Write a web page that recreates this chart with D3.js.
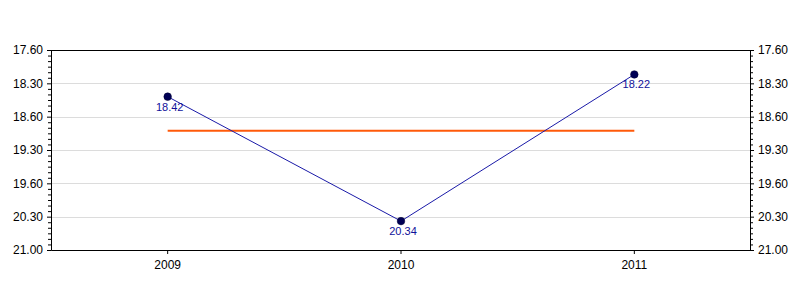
<!DOCTYPE html>
<html>
<head>
<meta charset="utf-8">
<script src="https://cdn.jsdelivr.net/npm/d3@7"></script>
<style>
  body { margin: 0; background: #fff; }
  svg { display: block; font-family: "Liberation Sans", Arial, sans-serif; }
</style>
</head>
<body>
<svg id="chart" width="800" height="300"></svg>
<script>
// Data (values are times written as minutes.seconds)
const categories = ["2009", "2010", "2011"];
const values = [18.42, 20.34, 18.22];
const valueLabels = ["18.42", "20.34", "18.22"];
// Axis ticks (seconds) and their labels as printed on the chart
const tickSeconds = [1080, 1110, 1140, 1170, 1200, 1230, 1260];
const tickLabels = ["17.60", "18.30", "18.60", "19.30", "19.60", "20.30", "21.00"];

const toSec = v => { const m = Math.floor(v); return m * 60 + Math.round((v - m) * 100); };
const secs = values.map(toSec);
const avg = d3.mean(secs);

const svg = d3.select("#chart");
const pLeft = 51, pRight = 751, pTop = 50, pBottom = 250;

const x = d3.scaleBand().domain(categories).range([pLeft, pRight]).padding(0);
const y = d3.scaleLinear().domain([1080, 1260]).range([pTop, pBottom]);

// grid lines
svg.append("g").selectAll("line").data(tickSeconds.slice(1, -1)).join("line")
  .attr("x1", pLeft).attr("x2", pRight)
  .attr("y1", d => Math.round(y(d)) + 0.5).attr("y2", d => Math.round(y(d)) + 0.5)
  .attr("stroke", "#dcdcdc").attr("stroke-width", 1);

// minor ticks
const minor = d3.range(1080, 1261, 5).filter(d => !tickSeconds.includes(d));

const styleAxis = (g) => {
  g.select(".domain").attr("stroke", "#000");
  g.selectAll(".tick line").attr("stroke", "#000");
  g.selectAll(".tick text").attr("fill", "#000").style("font-size", "12px");
};

const fmt = (d) => tickLabels[tickSeconds.indexOf(d)];

const gl = svg.append("g").attr("transform", `translate(${pLeft},0)`)
  .call(d3.axisLeft(y).tickValues(tickSeconds).tickFormat(fmt).tickSize(4).tickSizeOuter(0).tickPadding(4));
styleAxis(gl);
const glm = svg.append("g").attr("transform", `translate(${pLeft},0)`)
  .call(d3.axisLeft(y).tickValues(minor).tickFormat("").tickSize(3).tickSizeOuter(0));
styleAxis(glm);

const gr = svg.append("g").attr("transform", `translate(${pRight - 1},0)`)
  .call(d3.axisRight(y).tickValues(tickSeconds).tickFormat(fmt).tickSize(4).tickSizeOuter(0).tickPadding(4));
styleAxis(gr);
const grm = svg.append("g").attr("transform", `translate(${pRight - 1},0)`)
  .call(d3.axisRight(y).tickValues(minor).tickFormat("").tickSize(3).tickSizeOuter(0));
styleAxis(grm);

// top frame line
svg.append("line").attr("x1", pLeft).attr("x2", pRight - 1)
  .attr("y1", pTop + 0.5).attr("y2", pTop + 0.5).attr("stroke", "#000");

// bottom axis
const gb = svg.append("g").attr("transform", `translate(0,${pBottom})`)
  .call(d3.axisBottom(x).tickSize(4).tickSizeOuter(0).tickPadding(6));
styleAxis(gb);

const cx = d => x(d) + x.bandwidth() / 2;

// average line
svg.append("line")
  .attr("x1", cx(categories[0])).attr("x2", cx(categories[categories.length - 1]))
  .attr("y1", y(avg)).attr("y2", y(avg))
  .attr("stroke", "#ff5a0a").attr("stroke-width", 2);

// series line
const pts = categories.map((c, i) => ({ c, s: secs[i], l: valueLabels[i] }));
svg.append("path").datum(pts)
  .attr("fill", "none").attr("stroke", "#1a1aa8").attr("stroke-width", 1)
  .attr("d", d3.line().x(d => cx(d.c)).y(d => y(d.s)));

svg.append("g").selectAll("circle").data(pts).join("circle")
  .attr("cx", d => cx(d.c)).attr("cy", d => y(d.s)).attr("r", 3.8)
  .attr("fill", "#000055").attr("stroke", "#000033").attr("stroke-width", 0.5);

svg.append("g").selectAll("text").data(pts).join("text")
  .attr("x", d => cx(d.c) + 2).attr("y", d => y(d.s) + 14)
  .attr("text-anchor", "middle").attr("fill", "#10109a")
  .style("font-size", "11px").text(d => d.l);
</script>
</body>
</html>
